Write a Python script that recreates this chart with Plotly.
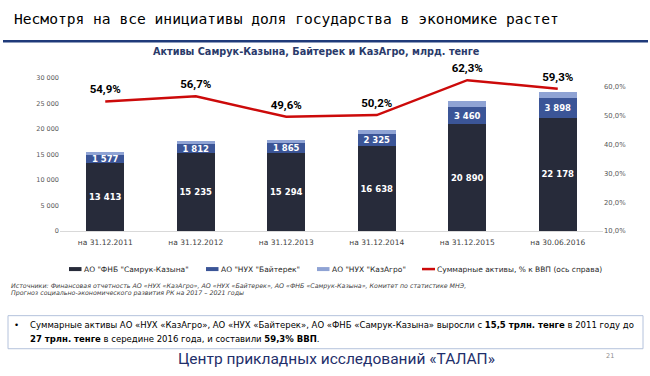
import plotly.graph_objects as go

categories = ["на 31.12.2011", "на 31.12.2012", "на 31.12.2013",
              "на 31.12.2014", "на 31.12.2015", "на 30.06.2016"]
samruk = [13413, 15235, 15294, 16638, 20890, 22178]
baiterek = [1577, 1812, 1865, 2325, 3460, 3898]
kazagro = [510, 550, 620, 850, 1050, 1100]
gdp_share = [54.9, 56.7, 49.6, 50.2, 62.3, 59.3]
left_ticks = [0, 5000, 10000, 15000, 20000, 25000, 30000]
right_ticks = [10, 20, 30, 40, 50, 60]
right_tick_labels = [f"{v:.1f}%".replace(".", ",") for v in right_ticks]

series_names = ['АО "ФНБ "Самрук-Казына"', 'АО "НУХ "Байтерек"', 'АО "НУХ "КазАгро"',
                'Суммарные активы, % к ВВП (ось справа)']

C_DARK = "#272B3A"
C_BLUE = "#3B5597"
C_LIGHT = "#8FA3D4"
C_RED = "#CC0A0A"
NAVY = "#1F3A7A"

# plot area in pixels
L, R, T, B = 60, 603, 78.3, 231.0
W, H = 650, 376


def px(x):
    return (x - L) / (R - L)


def py(y):
    return (B - y) / (B - T)


fig = go.Figure()
bar_font = dict(family="DejaVu Sans", size=8.5, color="white")
fig.add_trace(go.Bar(x=categories, y=samruk, name=series_names[0], marker_color=C_DARK,
                     marker_line_width=0, texttemplate="<b>%{y:,.0f}</b>",
                     textposition="inside", insidetextanchor="middle", textangle=0,
                     constraintext="none", textfont=bar_font))
fig.add_trace(go.Bar(x=categories, y=baiterek, name=series_names[1], marker_color=C_BLUE,
                     marker_line_width=0, texttemplate="<b>%{y:,.0f}</b>",
                     textposition="inside", insidetextanchor="middle", textangle=0,
                     constraintext="none", textfont=bar_font))
fig.add_trace(go.Bar(x=categories, y=kazagro, name=series_names[2], marker_color=C_LIGHT,
                     marker_line_width=0))
fig.add_trace(go.Scatter(x=categories, y=gdp_share, name=series_names[3], yaxis="y2",
                         mode="lines+markers+text", line=dict(color=C_RED, width=2.5),
                         marker=dict(size=7, opacity=0), cliponaxis=False,
                         texttemplate="<b>%{y:.1f}%</b>", textposition="top center",
                         textfont=dict(family="Roboto", size=11.5, color="black")))

fig.update_layout(
    width=W, height=H,
    margin=dict(l=L, r=W - R, t=T, b=H - B, pad=0),
    paper_bgcolor="white", plot_bgcolor="white",
    barmode="stack", bargap=0.58,
    separators=", ",
    showlegend=False,
    xaxis=dict(showline=True, linecolor="#D9D9D9", linewidth=1, ticks="",
               ticklabelstandoff=4,
               tickfont=dict(family="DejaVu Sans", size=7.5, color="#404040"),
               showgrid=False, zeroline=False),
    yaxis=dict(range=[0, 30000], tickvals=left_ticks, tickformat=",.0f",
               tickfont=dict(family="DejaVu Sans", size=6.5, color="#595959"),
               showgrid=False, zeroline=False, showline=False, ticks=""),
    yaxis2=dict(range=[10, 63.05], tickvals=right_ticks, ticktext=right_tick_labels,
                overlaying="y", side="right",
                tickfont=dict(family="DejaVu Sans", size=6.8, color="#595959"),
                showgrid=False, zeroline=False, showline=False, ticks=""),
)

ann = []
shapes = []

# slide title and rule
ann.append(dict(text="Несмотря на все инициативы доля государства в экономике растет",
                x=px(12), y=py(18.5), xanchor="left", yanchor="middle",
                font=dict(family="DejaVu Sans Mono", size=14.6, color="black")))
shapes.append(dict(type="line", xref="paper", yref="paper", x0=px(3), x1=px(648),
                   y0=py(41.7), y1=py(41.7), line=dict(color=NAVY, width=2.5)))

# chart title
ann.append(dict(text="<b>Активы Самрук-Казына, Байтерек и КазАгро, млрд. тенге</b>",
                x=px(316), y=py(52), xanchor="center", yanchor="middle",
                font=dict(family="DejaVu Sans", size=9.7, color="#2A3A6A")))

# custom legend
leg_y = 269
leg_items = [(69, C_DARK, "rect", series_names[0]),
             (206, C_BLUE, "rect", series_names[1]),
             (317, C_LIGHT, "rect", series_names[2]),
             (422, C_RED, "line", series_names[3])]
for x0, col, kind, label in leg_items:
    if kind == "rect":
        shapes.append(dict(type="rect", xref="paper", yref="paper", x0=px(x0), x1=px(x0 + 12.5),
                           y0=py(leg_y + 2), y1=py(leg_y - 2), fillcolor=col, line_width=0))
    else:
        shapes.append(dict(type="line", xref="paper", yref="paper", x0=px(x0), x1=px(x0 + 13),
                           y0=py(leg_y), y1=py(leg_y), line=dict(color=col, width=2.5)))
    ann.append(dict(text=label, x=px(x0 + 13), y=py(leg_y), xanchor="left", yanchor="middle",
                    font=dict(family="DejaVu Sans", size=7.5, color="#262626")))

# sources
src1 = ("Источники: Финансовая отчетность АО «НУХ «КазАгро», АО «НУХ «Байтерек», "
        "АО «ФНБ «Самрук-Казына», Комитет по статистике МНЭ,")
src2 = "Прогноз социально-экономического развития РК на 2017 – 2021 годы"
for yy, t in [(285.4, src1), (292.5, src2)]:
    ann.append(dict(text="<i>" + t + "</i>", x=px(9), y=py(yy), xanchor="left", yanchor="middle",
                    font=dict(family="DejaVu Sans", size=6.3, color="#404040")))

# summary box
shapes.append(dict(type="rect", xref="paper", yref="paper", x0=px(8), x1=px(643),
                   y0=py(315.5), y1=py(348.5), line=dict(color="#B4C2DC", width=1),
                   fillcolor="rgba(0,0,0,0)"))
ann.append(dict(text="•", x=px(12), y=py(325), xanchor="left", yanchor="middle",
                font=dict(family="DejaVu Sans", size=8.6, color="black")))
line1 = ("Суммарные активы АО «НУХ «КазАгро», АО «НУХ «Байтерек», АО «ФНБ «Самрук-Казына» "
         "выросли с <b>15,5 трлн. тенге</b> в 2011 году до")
line2 = "<b>27 трлн. тенге</b> в середине 2016 года, и составили <b>59,3% ВВП</b>."
ann.append(dict(text=line1, x=px(28), y=py(325), xanchor="left", yanchor="middle",
                font=dict(family="DejaVu Sans", size=8.5, color="black")))
ann.append(dict(text=line2, x=px(28), y=py(339), xanchor="left", yanchor="middle",
                font=dict(family="DejaVu Sans", size=8.5, color="black")))

# footer
ann.append(dict(text="Центр прикладных исследований «ТАЛАП»", x=px(336), y=py(359),
                xanchor="center", yanchor="middle",
                font=dict(family="Roboto", size=15.5, color="#1F2F6B")))
ann.append(dict(text="21", x=px(610), y=py(356), xanchor="center", yanchor="middle",
                font=dict(family="DejaVu Sans", size=6.5, color="#8C8C8C")))

for a in ann:
    a.update(xref="paper", yref="paper", showarrow=False)
fig.update_layout(annotations=ann, shapes=shapes)

fig.write_html("out.html", config={"displayModeBar": False},
               post_script="document.body.style.margin='0';document.body.style.padding='0';")
